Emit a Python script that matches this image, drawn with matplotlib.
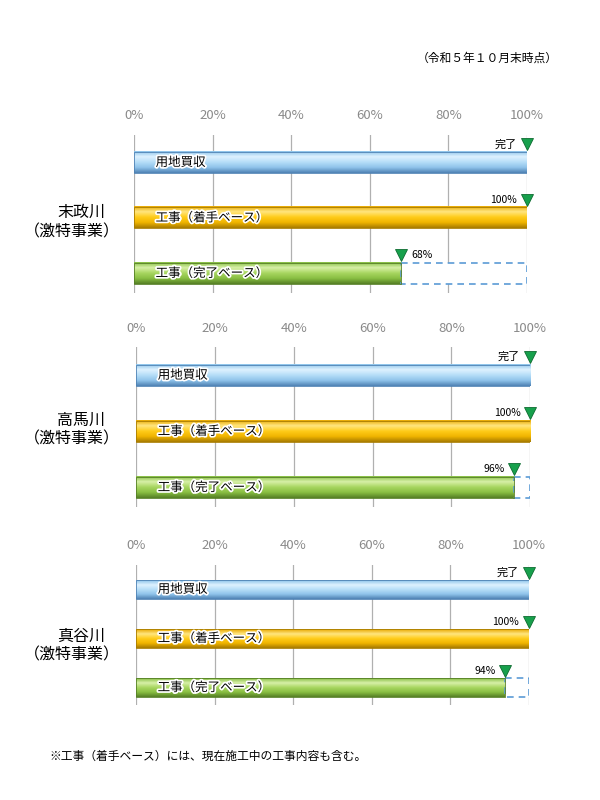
import numpy as np
import matplotlib
matplotlib.use("Agg")
import matplotlib.pyplot as plt
import matplotlib.patheffects as pe
from matplotlib.colors import LinearSegmentedColormap
from matplotlib.patches import Rectangle

plt.rcParams['font.family'] = ['Noto Sans CJK JP', 'DejaVu Sans']

# ---- data ----
rivers = ["末政川", "高馬川", "真谷川"]
project = "（激特事業）"
items = ["用地買収", "工事（着手ベース）", "工事（完了ベース）"]
land = [100, 100, 100]          # 用地買収 (完了)
start_base = [100, 100, 100]    # 工事（着手ベース）
done_base = [68, 96, 94]        # 工事（完了ベース）
ticks = [0, 20, 40, 60, 80, 100]
tick_labels = ["0%", "20%", "40%", "60%", "80%", "100%"]

# bar gradients: top edge -> highlight -> body -> dark bottom
grads = [
    ["#8cc3ea", "#dff2ff", "#b6def8", "#8fc3ea", "#4f82b4"],
    ["#e8a800", "#ffe680", "#ffcc1a", "#f0b400", "#a87c00"],
    ["#86bd43", "#d8f0a8", "#a8d660", "#88be42", "#557f25"],
]
cmaps = [LinearSegmentedColormap.from_list("g%d" % i, c) for i, c in enumerate(grads)]

# axes rects (figure fractions) per panel
rects = [
    [0.2233, 0.634, 0.655, 0.1975],
    [0.2267, 0.366, 0.657, 0.200],
    [0.2267, 0.119, 0.655, 0.175],
]
name_y = [0.722, 0.463, 0.193]

fig = plt.figure(figsize=(6, 8), dpi=100)
bh = 0.38
grad_img = np.linspace(0, 1, 64).reshape(-1, 1)

for p in range(3):
    ax = fig.add_axes(rects[p])
    vals = [land[p], start_base[p], done_base[p]]
    for i, v in enumerate(vals):
        ax.imshow(grad_img, cmap=cmaps[i], aspect="auto",
                  extent=(0, v, i + bh / 2, i - bh / 2), zorder=3)
        ax.add_patch(Rectangle((0, i - bh / 2), v, bh, fill=False,
                               edgecolor=grads[i][4], lw=0.6, zorder=4))
        ax.text(5.5, i, items[i], ha="left", va="center", fontsize=9,
                color="black", zorder=5,
                path_effects=[pe.withStroke(linewidth=2.5, foreground="white")])
        # triangle marker
        ax.plot(v, i - 0.33, marker="v", markersize=8, color="#17a04c",
                markeredgecolor="#0d6b30", markeredgewidth=0.6, zorder=6,
                clip_on=False)
    # dashed remainder box
    if done_base[p] < 100:
        ax.add_patch(Rectangle((done_base[p], 2 - bh / 2), 100 - done_base[p], bh,
                               fill=True, facecolor="white", edgecolor="#5b9bd5",
                               lw=1.2, linestyle=(0, (4, 3)), zorder=3))
    # value labels
    ax.text(land[p] - 2.5, -0.33, "完了", ha="right", va="center", fontsize=8)
    ax.text(start_base[p] - 2.5, 1 - 0.33, "%d%%" % start_base[p],
            ha="right", va="center", fontsize=7.5)
    if done_base[p] < 80:
        ax.text(done_base[p] + 2.5, 2 - 0.33, "%d%%" % done_base[p],
                ha="left", va="center", fontsize=7.5)
    else:
        ax.text(done_base[p] - 2.5, 2 - 0.33, "%d%%" % done_base[p],
                ha="right", va="center", fontsize=7.5)

    ax.set_xlim(0, 100)
    ax.set_ylim(2.35, -0.5)
    ax.set_xticks(ticks)
    ax.set_xticklabels(tick_labels, color="#8a8a8a", fontsize=9.5)
    ax.xaxis.tick_top()
    ax.tick_params(axis="x", length=0, pad=9)
    ax.set_yticks([])
    ax.grid(axis="x", color="#b0b0b0", lw=0.9, zorder=0)
    ax.set_axisbelow(True)
    for s in ax.spines.values():
        s.set_visible(False)
    ax.set_facecolor("none")

    fig.text(0.135, name_y[p] + 0.012, rivers[p], ha="center", va="center", fontsize=11.5)
    fig.text(0.12, name_y[p] - 0.012, project, ha="center", va="center", fontsize=11.5)

fig.text(0.93, 0.927, "（令和５年１０月末時点）", ha="right", va="center", fontsize=8.5)
fig.text(0.083, 0.054, "※工事（着手ベース）には、現在施工中の工事内容も含む。",
         ha="left", va="center", fontsize=8.5)

plt.savefig("out.png", dpi=100)
